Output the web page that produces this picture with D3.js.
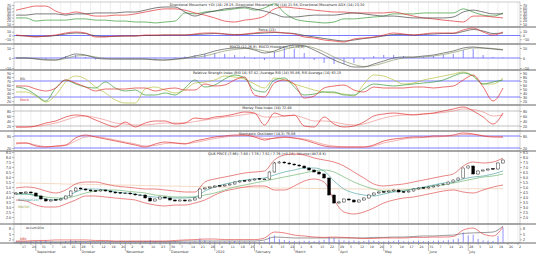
<!DOCTYPE html>
<html>
<head>
<meta charset="utf-8">
<script src="https://cdn.jsdelivr.net/npm/d3@7/dist/d3.min.js"></script>
<style>
  body { margin: 0; background: #fff; }
  svg { display: block; font-family: "DejaVu Sans", "Liberation Sans", sans-serif; }
</style>
</head>
<body>
<div id="chart"></div>
<script>
// ---- data (50 samples for indicator lines, 99 candles) ----
const dmiPlus  = [54,61,67,67,51,42,48,42,35,35,38,38,42,48,54,58,58,54,45,38,29,19,16,22,26,35,58,64,61,58,54,51,48,48,45,45,45,45,48,42,35,29,26,22,19,16,35,35,32,29];
const dmiMinus = [29,29,19,22,22,22,26,26,22,22,19,19,16,16,13,16,19,45,42,48,51,54,58,61,54,61,74,45,26,19,16,13,16,26,26,29,32,35,42,42,42,45,45,45,45,58,48,38,35,45];
const adx      = [38,38,42,42,42,38,42,42,45,45,45,48,48,54,61,64,64,48,35,45,51,58,61,64,58,51,42,32,32,35,38,38,38,42,45,42,38,35,35,32,29,29,29,29,32,48,54,48,42,42];

const force    = [1.3,-1.3,-4,-1.3,1.3,6.7,9.3,6.7,-4,-4,-1.3,-1.3,-1.3,1.3,1.3,1.3,1.3,1.3,4,6.7,6.7,4,1.3,4,6.7,9.3,9.3,6.7,4,-4,-6.7,-12,-14.7,-17.3,-9.3,-6.7,-4,1.3,6.7,4,1.3,4,6.7,6.7,6.7,14.7,20,9.3,1.3,9.3];
const forceAvg = [0,-1.3,-2.7,-2.7,0,4,6.7,5.3,-1.3,-2.7,-2.7,-1.3,-1.3,0,0,1.3,1.3,1.3,2.7,4,5.3,4,2.7,2.7,5.3,6.7,8,6.7,5.3,0,-4,-8,-12,-14.7,-12,-8,-5.3,-1.3,2.7,2.7,1.3,2.7,4,5.3,5.3,10.7,16,12,5.3,6.7];

const macd     = [0,0,-1,-2,-2,1,4,3,0,-1,-1,-1,-1,-1,-2,-2,-1,0,2,4,7,9,10,10,8,5,7,11,13,12,8,3,-2,-6,-9,-9,-6,-3,0,1,1,2,3,5,7,10,11,10,9,8];
const macdSig  = [0,0,-0.5,-1.5,-2,-0.5,2,2.5,1,-0.5,-1,-1,-1,-1,-1.5,-2,-1.5,-0.5,0.5,2,4.5,7,8.5,9.5,9,7,6,8.5,11,12,10,6,1,-3,-6.5,-8.5,-7.5,-5,-2,0,0.5,1,2,3.5,5.5,8,10,10,9.5,8.5];
const macdHist = [0,-0.5,-1,-1,0,2,3,1,-1.5,-1,-0.5,0,0,-0.5,-1,-0.5,0.5,1.5,3,4,5,4,3,1.5,-1,-2,6,10,9,5,-2,-5,-6,-6,-5,-2,2,3,3,2,1,1.5,2,3,4,8,9,3,1,0.5];

const rsi      = [57.5,57.5,50,45,52.5,72.5,65,55,45,50,50,50,52.5,52.5,45,50,52.5,47.5,47.5,62.5,57.5,60,72.5,80,35,30,65,72.5,62.5,27.5,32.5,52.5,57.5,60,47.5,42.5,55,52.5,52.5,52.5,55,55,52.5,55,57.5,72.5,85,55,20,52.5];
const rsiFast  = [55,50,35,20,52.5,72.5,62.5,55,52.5,67.5,52.5,45,47.5,35,35,40,35,52.5,72.5,55,60,75,85,77.5,47.5,42.5,72.5,77.5,55,35,37.5,42.5,42.5,35,35,50,62.5,60,57.5,60,62.5,65,67.5,72.5,82.5,90,82.5,62.5,67.5,72.5];
const rsiSlow  = [42.5,42.5,32.5,17.5,35,67.5,82.5,75,55,40,22.5,15,15,50,55,47.5,40,47.5,65,67.5,72.5,82.5,80,75,62.5,52.5,77.5,72.5,62.5,55,47.5,42.5,40,37.5,32.5,62.5,85,82.5,72.5,62.5,65,72.5,77.5,82.5,87.5,92.5,82.5,62.5,62.5,77.5];

const mfi      = [16,16,20,32,40,56,64,60,44,28,16,36,16,32,40,40,28,32,52,48,56,60,68,76,72,24,72,60,64,20,16,56,28,16,20,36,60,68,72,68,64,68,72,80,88,96,80,56,28,72];
const mfiAvg   = [16,16,18,24,32,44,56,60,54,44,32,28,24,24,28,32,32,32,38,44,50,56,60,66,70,56,56,60,62,52,40,40,36,28,24,28,40,52,60,64,66,68,70,74,80,88,86,76,60,64];

const stochK   = [45,45,30,25,30,35,70,85,75,65,55,45,35,25,40,50,45,40,55,65,75,80,85,85,75,60,70,75,70,60,45,30,25,25,25,25,35,55,65,70,75,75,80,80,85,95,90,80,75,75];
const stochD   = [40,45,35,27.5,27.5,32.5,55,75,77.5,70,60,50,40,30,32.5,42.5,45,42.5,47.5,57.5,67.5,75,80,82.5,80,67.5,67.5,72.5,70,65,52.5,37.5,30,25,25,25,30,45,55,65,70,72.5,75,77.5,80,87.5,87.5,82.5,77.5,75];

// candles: [open, high, low, close]
const candles = [
  [4.3,4.5,4.25,4.4],[4.45,4.48,4.32,4.4],[4.4,4.55,4.35,4.5],[4.5,4.55,4.35,4.4],[4.4,4.45,4.05,4.1],
  [4.1,4.15,3.75,3.8],[3.8,3.85,3.55,3.6],[3.6,3.75,3.55,3.7],[3.75,3.8,3.65,3.7],[3.7,3.85,3.65,3.8],
  [3.8,4.15,3.78,4.1],[4.1,4.65,4.05,4.6],[4.6,4.95,4.55,4.9],[4.9,4.95,4.75,4.8],[4.8,4.85,4.65,4.7],
  [4.7,4.75,4.55,4.6],[4.65,4.68,4.52,4.6],[4.6,4.75,4.55,4.7],[4.7,4.75,4.55,4.6],[4.6,4.65,4.45,4.5],
  [4.5,4.55,4.35,4.4],[4.45,4.5,4.35,4.4],[4.35,4.45,4.3,4.4],[4.4,4.45,4.25,4.3],[4.3,4.35,4.15,4.2],
  [4.15,4.25,4.1,4.2],[4.2,4.25,3.85,3.9],[3.9,3.95,3.55,3.6],[3.6,3.85,3.55,3.8],[3.8,4.05,3.75,4.0],
  [4.0,4.05,3.85,3.9],[3.9,3.95,3.65,3.7],[3.7,3.75,3.55,3.6],[3.6,3.75,3.55,3.7],[3.7,3.75,3.55,3.6],
  [3.6,3.75,3.58,3.7],[3.7,3.95,3.65,3.9],[3.9,4.85,3.85,4.8],[4.8,4.95,4.75,4.9],[4.9,5.05,4.85,5.0],
  [5.0,5.15,4.95,5.1],[5.15,5.2,5.05,5.1],[5.1,5.25,5.05,5.2],[5.2,5.35,5.15,5.3],[5.3,5.55,5.25,5.5],
  [5.5,5.65,5.45,5.6],[5.65,5.7,5.55,5.6],[5.6,5.75,5.55,5.7],[5.7,5.85,5.65,5.8],[5.85,5.9,5.75,5.8],
  [5.75,5.85,5.7,5.8],[5.8,6.55,5.75,6.5],[6.5,7.5,6.45,7.4],[7.4,7.6,7.35,7.5],[7.5,7.55,7.35,7.4],
  [7.4,7.45,7.25,7.3],[7.3,7.35,7.15,7.2],[7.2,7.25,7.05,7.1],[7.1,7.15,6.85,6.9],[6.9,6.95,6.65,6.7],
  [6.7,6.75,6.45,6.5],[6.5,6.55,6.25,6.3],[6.3,6.35,5.85,5.9],[5.9,5.95,4.15,4.2],[4.2,4.25,3.3,3.4],
  [3.4,3.6,3.35,3.5],[3.5,3.85,3.45,3.8],[3.8,3.85,3.65,3.7],[3.7,3.75,3.45,3.5],[3.5,3.75,3.45,3.7],
  [3.7,3.95,3.65,3.9],[3.9,4.25,3.85,4.2],[4.2,4.45,4.15,4.4],[4.4,4.55,4.35,4.5],[4.55,4.6,4.45,4.5],
  [4.5,4.65,4.45,4.6],[4.6,4.75,4.55,4.7],[4.7,4.75,4.45,4.5],[4.55,4.58,4.4,4.5],[4.5,4.65,4.45,4.6],
  [4.6,4.85,4.55,4.8],[4.8,4.95,4.75,4.9],[4.95,5.0,4.85,4.9],[4.9,5.05,4.85,5.0],[5.0,5.15,4.95,5.1],
  [5.1,5.25,5.05,5.2],[5.25,5.35,5.15,5.3],[5.3,5.55,5.25,5.5],[5.5,5.75,5.45,5.7],[5.7,5.95,5.65,5.9],
  [5.9,6.95,5.85,6.9],[6.9,7.15,6.85,7.1],[7.1,7.15,6.25,6.3],[6.3,6.65,6.25,6.6],[6.6,6.75,6.55,6.7],
  [6.7,6.85,6.65,6.8],[6.85,6.9,6.75,6.8],[6.8,7.45,6.75,7.4],[7.4,7.75,7.35,7.7]
];
const bbUpper = [4.9,5.0,4.9,4.6,4.4,4.7,5.3,5.5,5.5,5.3,5.1,5.0,4.9,4.8,4.8,4.7,4.6,4.5,4.5,5.5,5.8,6.0,6.2,6.4,6.5,6.6,7.7,8.2,8.3,8.2,7.9,7.7,7.5,7.1,6.5,5.9,5.3,5.1,5.2,5.3,5.5,5.7,5.9,6.1,6.3,7.1,7.5,7.4,7.5,7.9];
const bbLower = [3.7,3.6,3.2,3.0,3.0,3.3,3.7,4.1,4.1,4.0,3.9,3.8,3.7,3.4,3.2,3.1,3.2,3.2,3.4,3.7,4.2,4.6,4.8,5.0,5.1,5.1,4.7,4.7,5.1,5.6,5.8,5.5,3.7,2.5,2.3,2.5,2.9,3.4,3.7,3.9,4.0,4.2,4.4,4.6,4.7,4.5,4.4,4.7,5.0,5.2];
const maMid   = [4.3,4.3,4.1,3.8,3.7,4.0,4.5,4.8,4.8,4.7,4.5,4.4,4.3,4.1,4.0,3.9,3.9,3.9,4.0,4.6,5.0,5.3,5.5,5.7,5.8,5.9,6.2,6.5,6.7,6.9,6.9,6.6,5.6,4.8,4.4,4.2,4.1,4.3,4.5,4.6,4.8,5.0,5.2,5.4,5.5,5.8,6.0,6.1,6.3,6.6];
const maSlow  = [4.3,4.3,4.2,4.0,3.9,3.9,4.1,4.4,4.6,4.7,4.7,4.6,4.5,4.4,4.2,4.1,4.0,4.0,4.0,4.2,4.4,4.7,5.0,5.2,5.4,5.6,5.8,6.0,6.2,6.4,6.6,6.7,6.5,6.0,5.5,5.1,4.8,4.6,4.6,4.7,4.8,4.9,5.1,5.2,5.4,5.6,5.8,6.0,6.1,6.3];
const maLong  = [5.4,5.38,5.37,5.35,5.33,5.3,5.29,5.27,5.25,5.22,5.2,5.19,5.17,5.14,5.12,5.1,5.09,5.07,5.05,5.02,5.0,4.99,4.97,4.95,4.93,4.91,4.9,4.89,4.88,4.86,4.85,4.84,4.83,4.82,4.81,4.8,4.8,4.79,4.79,4.8,4.8,4.8,4.81,4.81,4.82,4.82,4.83,4.83,4.84,4.84];

const volume = [0.8,0.6,0.7,0.9,1.0,1.2,1.5,0.8,0.6,0.7, 1.1,1.6,1.3,0.8,0.7,0.6,0.5,0.6,0.7,0.6,
  0.5,0.5,0.6,0.7,0.6,0.8,1.1,1.4,1.0,0.9, 0.7,0.8,0.9,0.6,0.7,0.6,0.9,2.4,1.5,1.0,
  0.8,0.7,0.8,0.9,1.1,0.9,0.8,0.8,0.7,0.8, 0.9,3.5,4.2,2.1,1.6,1.2,1.1,1.0,1.2,1.1,
  1.0,1.3,1.8,3.2,2.8,1.9,1.5,1.2,1.4,1.1, 1.2,1.5,1.3,1.0,0.9,1.1,1.2,1.6,1.0,0.9,
  1.2,1.3,1.0,1.1,1.2,1.4,1.3,1.6,2.0,2.4, 5.8,4.1,4.6,2.2,1.5,1.3,1.2,3.8,8.5];
const volAvg = [1.1,1.1,1.4,1.4,1.7,1.7,1.7,1.7,1.4,1.4,1.1,1.1,1.1,1.1,1.1,1.1,1.4,1.7,1.9,2.2,2.2,1.9,1.9,1.9,1.9,2.8,6.1,5.6,4.4,3.9,3.3,3.1,3.3,3.1,2.8,2.5,2.5,2.8,2.8,2.8,3.1,3.1,3.3,3.3,3.6,7.2,8.3,5.0,3.9,8.9];
const accDist = [0.6,0.6,0.6,0.6,0.6,0.6,0.8,0.8,0.8,0.8,0.8,0.8,0.8,0.8,0.8,0.8,0.8,1.1,1.1,1.1,1.1,1.1,1.1,1.1,1.1,1.7,3.3,3.1,2.8,2.8,2.8,2.8,2.8,2.8,2.8,2.8,3.1,3.1,3.3,3.3,3.6,3.9,3.9,4.2,4.4,5.3,5.6,5.8,6.1,9.4];

// bottom axis: day of month for each weekly tick, and month names with the candle index where they start
const weekDays = [17,24,31,7,14,21,28,5,12,19,26,2,9,16,23,30,7,14,21,28,4,11,18,25,1,8,15,22,1,8,15,22,29,5,12,19,26,3,10,17,24,31,7,14,21,28,5,12,19,26,2];
const months = [["September",4],["October",13],["November",22],["December",31],["2010",40],["February",48],["March",56],["April",65],["May",74],["June",83],["July",91]];

// ---- layout ----
const W = 536, H = 254, L = 14, R = 520;
const svg = d3.select("#chart").append("svg").attr("width", W).attr("height", H);
const x = d3.scaleLinear().domain([0, 98]).range([16, 503]);
const xi = i => x(i * 2);   // line samples sit on every other candle

const panels = [
  { id: "dmi",  top: 2,   bottom: 27,  dom: [0, 80],    range: [27, 2],    ticks: [10,20,30,40,50,60,70],
    title: "Directional Movement +DI (14) 29.15, Directional Movement -DI (14) 21.58, Directional Movement ADX (14) 23.30" },
  { id: "frc",  top: 27,  bottom: 44,  dom: [-20, 20],  range: [43, 28],   ticks: [-10,0,10], title: "Force (13)" },
  { id: "macd", top: 44,  bottom: 70,  dom: [-14, 14],  range: [72, 44],   ticks: [-10,0,10],
    title: "MACD (12,26,9), MACD Histogram (12,26,9)" },
  { id: "rsi",  top: 70,  bottom: 105, dom: [0, 100],   range: [109, 69],  ticks: [20,30,40,50,60,70,80,90],
    title: "Relative Strength Index (RSI 14) 57.42, Average RSI (14) 55.86, RSI Average (14) 63.15" },
  { id: "mfi",  top: 105, bottom: 131, dom: [0, 100],   range: [131, 106], ticks: [20,40,60,80], title: "Money Flow Index (14) 72.48" },
  { id: "sto",  top: 131, bottom: 151, dom: [0, 100],   range: [152, 132], ticks: [20,80], title: "Stochastic Oscillator (14,3) 75.06" },
  { id: "px",   top: 151, bottom: 224, dom: [1.5, 8.5], range: [222, 152], ticks: d3.range(2, 8.51, 0.5),
    title: "QLIK PRICE (7.66): 7.60 / 7.76 / 7.52 / 7.76 (+0.24), Volume (487.6 K)" },
  { id: "vol",  top: 224, bottom: 243, dom: [0, 10],    range: [243, 225], ticks: [2,5,8], title: "" }
];
const Y = {};
panels.forEach(p => { Y[p.id] = d3.scaleLinear().domain(p.dom).range(p.range); });

const defs = svg.append("defs");
panels.forEach(p => {
  defs.append("clipPath").attr("id", "clip-" + p.id)
    .append("rect").attr("x", L).attr("y", p.top).attr("width", R - L).attr("height", p.bottom - p.top);
});

// weekly vertical grid
const grid = svg.append("g");
weekDays.forEach((d, k) => {
  const gx = x(k * 2 + 1);
  if (gx > R) return;
  grid.append("line").attr("x1", gx).attr("x2", gx).attr("y1", 2).attr("y2", 243)
    .attr("stroke", "#e2e2e2").attr("stroke-width", 0.6);
});

// panel frames and axes
panels.forEach(p => {
  svg.append("rect").attr("x", L).attr("y", p.top).attr("width", R - L).attr("height", p.bottom - p.top)
    .attr("fill", "none").attr("stroke", "#aaa").attr("stroke-width", 0.6);
  svg.append("line").attr("x1", 0).attr("x2", W).attr("y1", p.bottom).attr("y2", p.bottom)
    .attr("stroke", "#555").attr("stroke-width", 0.9);
  const fmt = p.id === "px" ? d3.format(".1f") : d3.format("d");
  const ax = svg.append("g").attr("transform", `translate(${R},0)`)
    .call(d3.axisRight(Y[p.id]).tickValues(p.ticks).tickSize(2).tickFormat(fmt));
  ax.select(".domain").remove();
  ax.selectAll("text").attr("font-size", 3.6).attr("fill", "#333").attr("x", 3);
  ax.selectAll("line").attr("stroke", "#777").attr("stroke-width", 0.5);
  const axl = svg.append("g").attr("transform", `translate(${L},0)`)
    .call(d3.axisLeft(Y[p.id]).tickValues(p.ticks).tickSize(2).tickFormat(fmt));
  axl.select(".domain").remove();
  axl.selectAll("text").attr("font-size", 3.6).attr("fill", "#333").attr("x", -3);
  axl.selectAll("line").attr("stroke", "#777").attr("stroke-width", 0.5);
  if (p.title) {
    svg.append("text").attr("x", 267).attr("y", p.top + 3.8).attr("text-anchor", "middle")
      .attr("font-size", 3.4).attr("fill", "#222").text(p.title);
  }
});

function hline(id, v, color, w) {
  svg.append("line").attr("x1", L).attr("x2", R).attr("y1", Y[id](v)).attr("y2", Y[id](v))
    .attr("stroke", color).attr("stroke-width", w || 0.8);
}
function series(id, data, color, w) {
  const line = d3.line().x((d, i) => xi(i)).y(d => Y[id](d)).curve(d3.curveMonotoneX);
  svg.append("path").attr("clip-path", `url(#clip-${id})`).datum(data).attr("d", line)
    .attr("fill", "none").attr("stroke", color).attr("stroke-width", w || 0.7);
}

// reference lines
hline("frc", 0, "#7a7aff", 1.2);
hline("macd", 0, "#7a7aff", 1.2);
hline("rsi", 70, "#7a7aff", 1); hline("rsi", 30, "#7a7aff", 1);
hline("mfi", 80, "#999", 0.6); hline("mfi", 20, "#999", 0.6);
hline("sto", 80, "#7a7aff", 1); hline("sto", 20, "#7a7aff", 1);

// DMI
series("dmi", dmiMinus, "#3a9a3a");
series("dmi", dmiPlus, "#e03030");
series("dmi", adx, "#444");

// Force
series("frc", forceAvg, "#444");
series("frc", force, "#e03030");

// MACD histogram + lines
svg.append("g").attr("clip-path", "url(#clip-macd)").selectAll("line").data(macdHist).join("line")
  .attr("x1", (d, i) => xi(i)).attr("x2", (d, i) => xi(i))
  .attr("y1", Y.macd(0)).attr("y2", d => Y.macd(d))
  .attr("stroke", "#6a6aff").attr("stroke-width", 0.8);
series("macd", macdSig, "#8a9a6a");
series("macd", macd, "#555");

// RSI
series("rsi", rsiSlow, "#b8c040");
series("rsi", rsiFast, "#3a9a3a");
series("rsi", rsi, "#e03030");
svg.append("text").attr("x", 20).attr("y", Y.rsi(70) - 1).attr("font-size", 3.2).attr("fill", "#333").text("RSI");
svg.append("text").attr("x", 20).attr("y", Y.rsi(30) + 3.5).attr("font-size", 3.2).attr("fill", "#d02020").text("Stoch");

// MFI
series("mfi", mfiAvg, "#f09090");
series("mfi", mfi, "#e03030");

// Stochastic
series("sto", stochD, "#f09090");
series("sto", stochK, "#e03030");

// price panel
series("px", maLong, "#f3d6bd", 0.9);
series("px", bbUpper, "#e05050", 0.7);
series("px", bbLower, "#e05050", 0.7);
series("px", maSlow, "#5aa95a", 0.6);
series("px", maMid, "#3a9a9a", 0.6);
const cw = 2.8;
const cg = svg.append("g").attr("clip-path", "url(#clip-px)");
cg.selectAll("line").data(candles).join("line")
  .attr("x1", (d, i) => x(i)).attr("x2", (d, i) => x(i))
  .attr("y1", d => Y.px(d[1])).attr("y2", d => Y.px(d[2]))
  .attr("stroke", "#000").attr("stroke-width", 0.5);
cg.selectAll("rect").data(candles).join("rect")
  .attr("x", (d, i) => x(i) - cw / 2)
  .attr("y", d => Y.px(Math.max(d[0], d[3])))
  .attr("width", cw)
  .attr("height", d => Math.max(0.8, Math.abs(Y.px(d[0]) - Y.px(d[3]))))
  .attr("fill", d => d[3] < d[0] ? "#000" : "#fff")
  .attr("stroke", "#000").attr("stroke-width", 0.4);
svg.append("text").attr("x", 18).attr("y", 201).attr("font-size", 3.2).attr("fill", "#2a9a9a").text("Bollinger(20)");
svg.append("text").attr("x", 18).attr("y", 208).attr("font-size", 3.2).attr("fill", "#8a9a30").text("MA(50)");

// volume panel
svg.append("g").attr("clip-path", "url(#clip-vol)").selectAll("line").data(volume).join("line")
  .attr("x1", (d, i) => x(i)).attr("x2", (d, i) => x(i))
  .attr("y1", Y.vol(0)).attr("y2", d => Y.vol(d))
  .attr("stroke", "#7a7aff").attr("stroke-width", 0.8);
series("vol", accDist, "#555", 0.6);
series("vol", volAvg, "#e03030", 0.6);
svg.append("text").attr("x", 26).attr("y", 229).attr("font-size", 3.2).attr("fill", "#333").text("Accum/Dist");
svg.append("text").attr("x", 20).attr("y", 240).attr("font-size", 3.2).attr("fill", "#d02020").text("OBV");

// bottom axis: weekly ticks with day numbers, month names underneath
const bx = svg.append("g");
weekDays.forEach((d, k) => {
  const gx = x(k * 2 + 1);
  if (gx > R) return;
  bx.append("line").attr("x1", gx).attr("x2", gx).attr("y1", 243).attr("y2", 245).attr("stroke", "#777").attr("stroke-width", 0.5);
  bx.append("text").attr("x", gx + 1).attr("y", 247.5).attr("font-size", 3.2).attr("fill", "#333").text(d);
});
months.forEach(([name, idx]) => {
  const mx = x(idx);
  bx.append("line").attr("x1", mx).attr("x2", mx).attr("y1", 243).attr("y2", 251).attr("stroke", "#777").attr("stroke-width", 0.5);
  bx.append("text").attr("x", mx + 1).attr("y", 252.5).attr("font-size", 3.4).attr("fill", "#333").text(name);
});
</script>
</body>
</html>
